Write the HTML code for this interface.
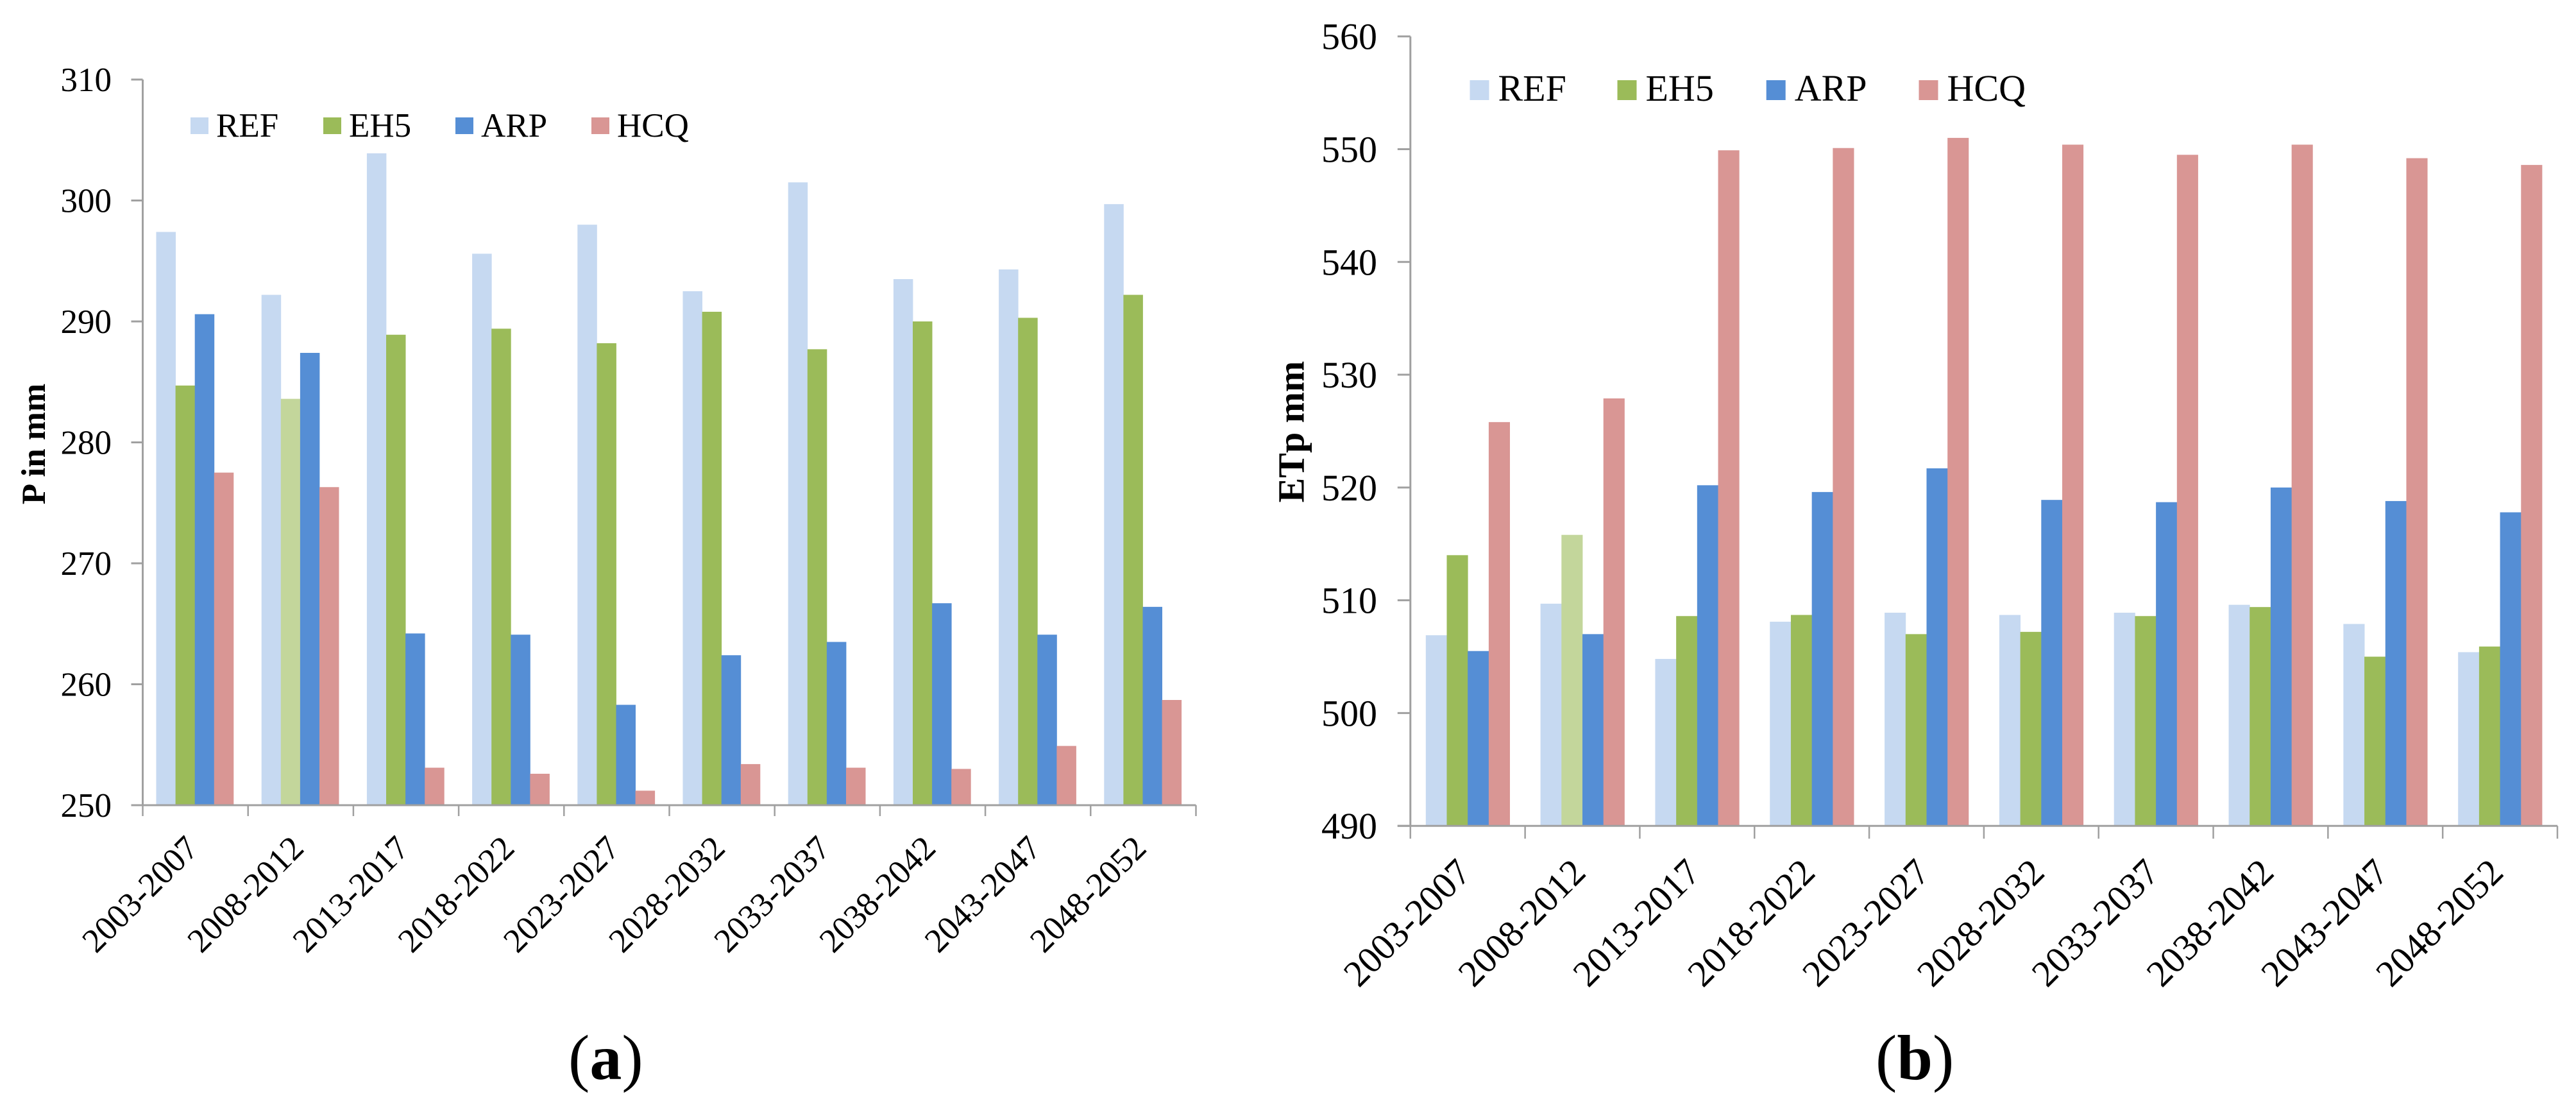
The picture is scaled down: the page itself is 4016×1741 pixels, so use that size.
<!DOCTYPE html>
<html lang="en">
<head>
<meta charset="utf-8">
<title>P and ETp by period</title>
<style>
html,body{margin:0;padding:0;background:#fff;}
body{width:4016px;height:1741px;overflow:hidden;}
svg{display:block;}
text{font-family:"Liberation Serif","Times New Roman",serif;fill:#000;}
</style>
</head>
<body>
<svg id="figure" xmlns="http://www.w3.org/2000/svg" width="4016" height="1741" viewBox="0 0 4016 1741">
  <g id="chart-a"></g>
  <g id="chart-b"></g>
  <text x="886" y="1682" font-size="100">(<tspan font-weight="bold">a</tspan>)</text>
  <text x="2924" y="1682" font-size="100">(<tspan font-weight="bold">b</tspan>)</text>
</svg>
<script>
const categories = ["2003-2007","2008-2012","2013-2017","2018-2022","2023-2027","2028-2032","2033-2037","2038-2042","2043-2047","2048-2052"];
const seriesNames = ["REF","EH5","ARP","HCQ"];

const pTicks = [250,260,270,280,290,300,310];
const pREF = [297.4,292.2,303.9,295.6,298.0,292.5,301.5,293.5,294.3,299.7];
const pEH5 = [284.7,283.6,288.9,289.4,288.2,290.8,287.7,290.0,290.3,292.2];
const pARP = [290.6,287.4,264.2,264.1,258.3,262.4,263.5,266.7,264.1,266.4];
const pHCQ = [277.5,276.3,253.1,252.6,251.2,253.4,253.1,253.0,254.9,258.7];

const etpTicks = [490,500,510,520,530,540,550,560];
const etpREF = [506.9,509.7,504.8,508.1,508.9,508.7,508.9,509.6,507.9,505.4];
const etpEH5 = [514.0,515.8,508.6,508.7,507.0,507.2,508.6,509.4,505.0,505.9];
const etpARP = [505.5,507.0,520.2,519.6,521.7,518.9,518.7,520.0,518.8,517.8];
const etpHCQ = [525.8,527.9,549.9,550.1,551.0,550.4,549.5,550.4,549.2,548.6];

const seriesColors = ["#c6d9f1","#9bbb59","#558ed5","#d99694"];
const fadedEH5Color = "#c3d69b";
const fadedEH5Category = "2008-2012";
const axisColor = "#a0a0a0";
const NS = "http://www.w3.org/2000/svg";

function make(parent, tag, attrs) {
  const el = document.createElementNS(NS, tag);
  for (const k in attrs) el.setAttribute(k, attrs[k]);
  parent.appendChild(el);
  return el;
}

function drawChart(root, opt) {
  const ticks = opt.ticks;
  const vMin = ticks[0], vMax = ticks[ticks.length - 1];
  const yOf = v => opt.y0 - (v - vMin) * (opt.y0 - opt.y1) / (vMax - vMin);
  const catW = (opt.x1 - opt.x0) / categories.length;
  const xOf = i => opt.x0 + i * catW;

  // bars
  opt.series.forEach((values, s) => {
    values.forEach((v, i) => {
      const color = (s === 1 && categories[i] === fadedEH5Category) ? fadedEH5Color : seriesColors[s];
      const bar = make(root, "rect", {
        x: xOf(i) + opt.margin + s * opt.barW,
        y: yOf(v),
        width: opt.barW + 0.4,
        height: opt.y0 - yOf(v),
        fill: color
      });
      
      
    });
  });

  // y axis
  const yAxis = make(root, "line", {x1: opt.x0, x2: opt.x0, y1: opt.y1, y2: opt.y0, stroke: axisColor, "stroke-width": 3});
  
  

  ticks.forEach(t => {
    const mark = make(root, "line", {x1: opt.x0 - opt.tickLen, x2: opt.x0, y1: yOf(t), y2: yOf(t), stroke: axisColor, "stroke-width": 3});
    
    
    const label = make(root, "text", {x: opt.yLabelX, y: yOf(t) + opt.yLabelDy, "font-size": opt.font, "text-anchor": "end"});
    
    
    label.textContent = t;
  });

  // x axis
  const xAxis = make(root, "line", {x1: opt.x0 - opt.tickLen, x2: opt.x1, y1: opt.y0, y2: opt.y0, stroke: axisColor, "stroke-width": 3});
  
  

  for (let i = 0; i <= categories.length; i++) {
    const mark = make(root, "line", {x1: xOf(i), x2: xOf(i), y1: opt.y0, y2: opt.y0 + opt.xTickLen, stroke: axisColor, "stroke-width": 2.5});
    
    
  }

  categories.forEach((c, i) => {
    const ax = xOf(i) + catW / 2 + opt.xLabelDx;
    const ay = opt.xLabelY;
    const label = make(root, "text", {x: ax, y: ay, "font-size": opt.font, "text-anchor": "end", transform: "rotate(-45 " + ax + " " + ay + ")"});
    
    
    label.textContent = c;
  });

  // axis title
  const title = make(root, "text", {x: opt.titleX, y: opt.titleY, "font-size": opt.font, "font-weight": "bold", "text-anchor": "middle", transform: "rotate(-90 " + opt.titleX + " " + opt.titleY + ")"});
  
  
  title.textContent = opt.title;

  // legend
  seriesNames.forEach((name, s) => {
    const swatch = make(root, "rect", {x: opt.legendX[s], y: opt.legendY, width: opt.swatchW, height: opt.swatchH, fill: seriesColors[s]});
    
    
    const label = make(root, "text", {x: opt.legendX[s] + opt.legendGap, y: opt.legendBase, "font-size": opt.font});
    
    
    label.textContent = name;
  });
}

drawChart(document.getElementById("chart-a"), {
  ticks: pTicks, series: [pREF, pEH5, pARP, pHCQ],
  x0: 222.5, x1: 1864.5, y0: 1255, y1: 124,
  margin: 21, barW: 30.1, tickLen: 18, xTickLen: 17,
  font: 53, yLabelX: 174, yLabelDy: 18, xLabelDx: 7.5, xLabelY: 1325,
  title: "P in mm", titleX: 70, titleY: 692,
  legendX: [297, 504, 710, 922], legendY: 183, swatchW: 28, swatchH: 26,
  legendGap: 40, legendBase: 213
});

drawChart(document.getElementById("chart-b"), {
  ticks: etpTicks, series: [etpREF, etpEH5, etpARP, etpHCQ],
  x0: 2198.8, x1: 3987, y0: 1287.2, y1: 56.7,
  margin: 24, barW: 32.7, tickLen: 20, xTickLen: 20,
  font: 58, yLabelX: 2147, yLabelDy: 20, xLabelDx: 8, xLabelY: 1363,
  title: "ETp mm", titleX: 2032.7, titleY: 673,
  legendX: [2291.5, 2521.5, 2753.7, 2991.5], legendY: 125, swatchW: 30, swatchH: 31,
  legendGap: 44, legendBase: 157
});
</script>
</body>
</html>
